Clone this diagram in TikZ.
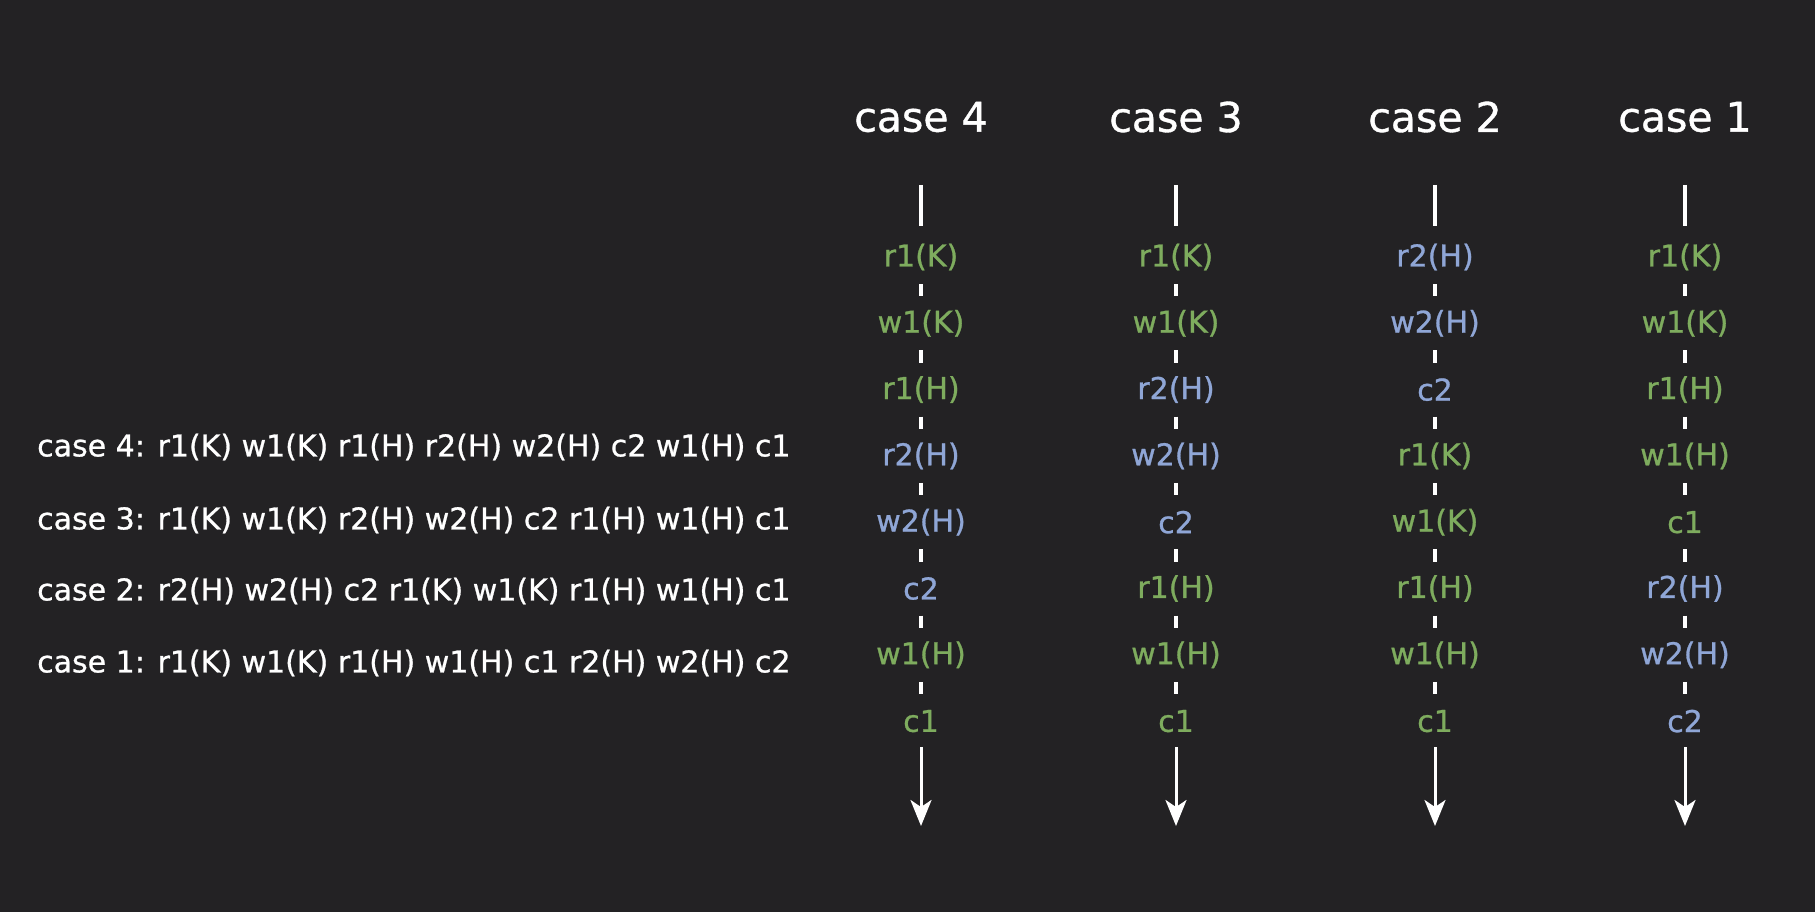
\documentclass[tikz,border=0pt]{standalone}
\usepackage{fontspec}
\setmainfont[FakeBold=0.9]{DejaVu Sans}
\usetikzlibrary{arrows.meta,calc}
\definecolor{bg}{RGB}{35,34,36}
\definecolor{opA}{RGB}{126,172,94}
\definecolor{opB}{RGB}{143,166,214}
\begin{document}
\begin{tikzpicture}[x=1pt,y=-1pt,
  title/.style={text=white,font=\fontsize{41}{46}\selectfont},
  seq/.style={text=white,font=\fontsize{30}{34}\selectfont,anchor=west,inner sep=0pt},
  op/.style={font=\fontsize{30}{34}\selectfont,inner sep=0pt},
  ga/.style={op,text=opA},
  gb/.style={op,text=opB},
  tick/.style={draw=white,line width=4pt,shorten <=27pt,shorten >=27pt},
  axis/.style={draw=white,line width=3.5pt},
  timearrow/.style={draw=white,line width=3pt,-{Stealth[length=26pt,width=21pt,inset=7pt]}}]
\fill[bg] (0,0) rectangle (1815,912);
\useasboundingbox (0,0) rectangle (1815,912);

% schedules written out in full
\node[seq] (s4) at (37,447) {case 4: r1(K) w1(K) r1(H) r2(H) w2(H) c2 w1(H) c1};
\node[seq] (s3) at (37,520) {case 3: r1(K) w1(K) r2(H) w2(H) c2 r1(H) w1(H) c1};
\node[seq] (s2) at (37,591) {case 2: r2(H) w2(H) c2 r1(K) w1(K) r1(H) w1(H) c1};
\node[seq] (s1) at (37,663) {case 1: r1(K) w1(K) r1(H) w1(H) c1 r2(H) w2(H) c2};

% one time line per case: x position / name / title / operations
\foreach \x/\n/\t/\ops in {
  921/d/case 4/{ga/r1(K),ga/w1(K),ga/r1(H),gb/r2(H),gb/w2(H),gb/c2,ga/w1(H),ga/c1},
  1176/c/case 3/{ga/r1(K),ga/w1(K),gb/r2(H),gb/w2(H),gb/c2,ga/r1(H),ga/w1(H),ga/c1},
  1435/b/case 2/{gb/r2(H),gb/w2(H),gb/c2,ga/r1(K),ga/w1(K),ga/r1(H),ga/w1(H),ga/c1},
  1685/a/case 1/{ga/r1(K),ga/w1(K),ga/r1(H),ga/w1(H),ga/c1,gb/r2(H),gb/w2(H),gb/c2}}{
  \node[title] (h\n) at (\x,117) {\t};
  \coordinate (top\n) at (\x,185);
  \coordinate (start\n) at (\x,226);
  \draw[axis] (top\n) -- (start\n);
  \foreach [count=\i] \sty/\lab in \ops {
    \pgfmathsetmacro{\yy}{257+66.3*(\i-1)}
    \node[\sty] (\n\i) at (\x,\yy) {\lab};
  }
  \foreach \i [evaluate=\i as \j using int(\i+1)] in {1,...,7}
    \draw[tick] (\n\i.center) -- (\n\j.center);
  \coordinate (end\n) at (\x,826);
  \draw[timearrow] ($(\n8.center)+(0,26)$) -- (end\n);
}
\end{tikzpicture}
\end{document}
